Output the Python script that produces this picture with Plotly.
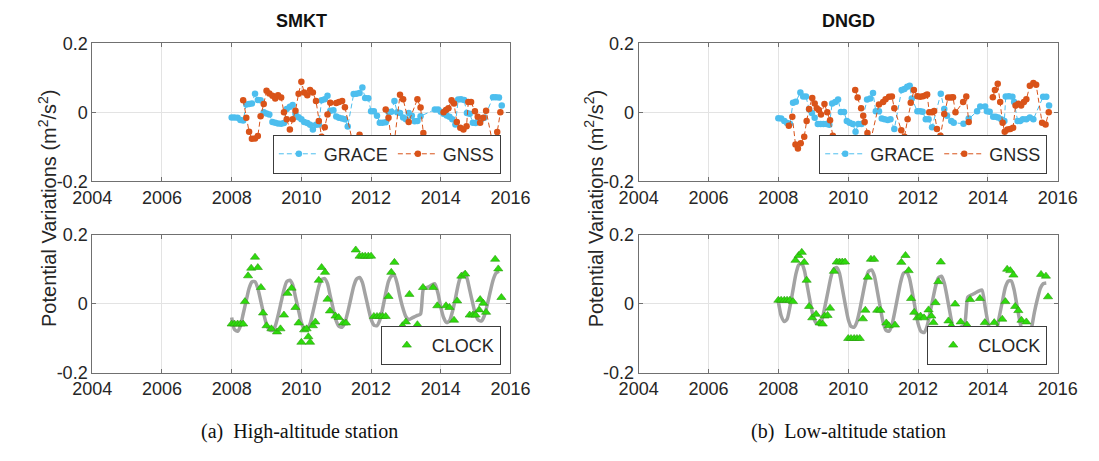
import plotly.graph_objects as go

# ---------------- SMKT (high-altitude station) ----------------
smkt_grace_t = [2008.00, 2008.08, 2008.17, 2008.25, 2008.33, 2008.42, 2008.50, 2008.58, 2008.67, 2008.75,
                2008.83, 2008.92, 2009.00, 2009.08, 2009.17, 2009.25, 2009.33, 2009.42, 2009.50, 2009.58,
                2009.67, 2009.75, 2009.83, 2009.92, 2010.00, 2010.08, 2010.17, 2010.25, 2010.33, 2010.42,
                2010.50, 2010.58, 2010.67, 2010.75, 2010.83, 2010.92, 2011.00, 2011.08, 2011.17, 2011.25,
                2011.33, 2011.50, 2011.58, 2011.67, 2011.75, 2011.83, 2011.92, 2012.00, 2012.08, 2012.17,
                2012.25, 2012.33, 2012.42, 2012.50, 2012.58, 2012.67, 2012.75, 2012.83, 2012.92, 2013.00,
                2013.08, 2013.17, 2013.25, 2013.33, 2013.42, 2013.83, 2013.92, 2014.00, 2014.08, 2014.17,
                2014.25, 2014.33, 2014.42, 2014.50, 2014.58, 2014.67, 2014.75, 2014.83, 2014.92, 2015.00,
                2015.08, 2015.17, 2015.25, 2015.50, 2015.58, 2015.67, 2015.75]
smkt_grace_v = [-0.015, -0.015, -0.016, -0.022, -0.024, 0.023, 0.024, 0.026, 0.054, 0.036,
                0.035, 0.000, -0.003, -0.006, -0.028, -0.030, -0.032, -0.033, -0.031, 0.010,
                0.016, 0.021, -0.004, -0.014, -0.020, -0.028, -0.031, -0.036, -0.050, -0.036,
                -0.035, 0.035, 0.038, 0.048, 0.005, 0.006, -0.012, -0.016, -0.018, -0.020,
                -0.041, 0.053, 0.054, 0.056, 0.072, 0.042, 0.041, 0.003, 0.003, -0.010,
                -0.030, -0.030, -0.029, 0.001, 0.002, 0.033, 0.000, -0.002, -0.015, -0.020,
                -0.002, -0.010, -0.026, -0.025, -0.011, 0.008, 0.008, 0.002, -0.004, -0.009,
                -0.013, -0.020, -0.035, 0.037, 0.038, 0.036, -0.002, -0.004, -0.030, -0.031,
                -0.022, -0.019, -0.016, 0.044, 0.044, 0.043, 0.020]

smkt_gnss_t = [2008.33, 2008.42, 2008.50, 2008.58, 2008.67, 2008.75, 2008.83, 2008.92, 2009.00, 2009.08,
               2009.17, 2009.25, 2009.33, 2009.42, 2009.50, 2009.58, 2009.67, 2009.75, 2009.83, 2009.92,
               2010.00, 2010.08, 2010.17, 2010.25, 2010.33, 2010.42, 2010.50, 2010.58, 2010.67, 2010.75,
               2010.83, 2011.00, 2011.08, 2011.17, 2011.25, 2011.50, 2011.58, 2011.67, None,
               2012.42, 2012.50, 2012.58, 2012.67, 2012.83, 2012.92, 2013.08, 2013.33, 2013.42, 2013.50, None,
               2014.08, 2014.15, 2014.22, 2014.31, 2014.38, 2014.46, 2014.56, 2014.65, 2014.74, 2014.79,
               2014.87, 2014.98, 2015.06, 2015.13, 2015.22, 2015.30, 2015.48, 2015.62, 2015.71]
smkt_gnss_v = [0.035, -0.016, -0.056, -0.077, -0.076, -0.069, -0.011, 0.024, 0.063, 0.055,
               0.048, 0.040, 0.050, 0.043, 0.000, -0.020, -0.050, -0.020, 0.005, 0.054,
               0.089, 0.058, 0.050, 0.065, 0.058, 0.033, -0.025, -0.071, -0.043, -0.006,
               0.028, 0.027, 0.030, 0.033, 0.015, -0.100, -0.083, -0.065, None,
               0.008, -0.016, -0.080, -0.083, 0.051, 0.038, -0.028, 0.038, 0.014, -0.060, None,
               0.000, 0.007, 0.012, 0.035, 0.026, -0.028, -0.045, -0.050, -0.040, 0.030,
               0.030, 0.003, -0.013, -0.030, -0.016, 0.005, -0.085, -0.057, 0.000]

smkt_clock_t = [2008.00, 2008.08, 2008.17, 2008.25, 2008.33, 2008.38, 2008.47, 2008.56, 2008.67, 2008.75,
                2008.84, 2008.90, 2009.00, 2009.14, 2009.30, 2009.40, 2009.50, 2009.60, 2009.72, 2009.83,
                2009.92, 2010.00, 2010.08, 2010.15, 2010.20, 2010.25, 2010.33, 2010.40, 2010.50, 2010.58,
                2010.68, 2010.75, 2010.82, 2010.98, 2011.07, 2011.20, 2011.28, 2011.56, 2011.67, 2011.75,
                2011.83, 2011.92, 2012.00, 2012.08, 2012.17, 2012.25, 2012.33, 2012.42, 2012.50, 2012.58,
                2012.67, 2012.90, 2013.00, 2013.10, 2013.33, 2013.49, 2013.78, 2013.90, 2014.15, 2014.25,
                2014.38, 2014.47, 2014.59, 2014.70, 2014.83, 2014.92, 2015.00, 2015.10, 2015.13, 2015.22,
                2015.30, 2015.56, 2015.65, 2015.74]
smkt_clock_v = [-0.059, -0.059, -0.059, -0.059, -0.059, 0.006, 0.081, 0.103, 0.135, 0.105,
                0.047, -0.027, -0.064, -0.073, -0.082, -0.073, -0.033, 0.030, 0.045, -0.011,
                -0.056, -0.112, -0.076, -0.073, -0.096, -0.112, -0.064, -0.053, 0.068, 0.105,
                0.091, 0.013, -0.021, -0.036, -0.040, -0.056, -0.056, 0.156, 0.138, 0.138,
                0.138, 0.138, 0.138, -0.037, -0.037, -0.037, -0.037, -0.037, 0.021, 0.091,
                0.120, -0.064, -0.053, 0.027, -0.061, 0.047, 0.047, -0.006, -0.006, -0.011,
                -0.048, 0.008, 0.080, 0.086, -0.033, -0.033, -0.033, -0.018, 0.012, 0.001,
                -0.025, 0.129, 0.101, 0.018]

smkt_fit_t = [2008.00, 2008.08, 2008.17, 2008.25, 2008.33, 2008.42, 2008.50, 2008.58, 2008.67, 2008.75,
              2008.83, 2008.92, 2009.00, 2009.08, 2009.17, 2009.25, 2009.33, 2009.42, 2009.50, 2009.58,
              2009.67, 2009.75, 2009.83, 2009.92, 2010.00, 2010.08, 2010.17, 2010.25, 2010.33, 2010.42,
              2010.50, 2010.58, 2010.67, 2010.75, 2010.83, 2010.92, 2011.00, 2011.08, 2011.17, 2011.25,
              2011.33, 2011.42, 2011.50, 2011.58, 2011.67, 2011.75, 2011.83, 2011.92, 2012.00, 2012.08,
              2012.17, 2012.25, 2012.33, 2012.42, 2012.50, 2012.58, 2012.67, 2012.75, 2012.83, 2012.92,
              2013.00, 2013.08, 2013.17, 2013.25, 2013.33, 2013.42, 2013.50, 2013.58, 2013.67, 2013.75,
              2013.83, 2013.92, 2014.00, 2014.08, 2014.17, 2014.25, 2014.33, 2014.42, 2014.50, 2014.58,
              2014.67, 2014.75, 2014.83, 2014.92, 2015.00, 2015.08, 2015.17, 2015.25, 2015.33, 2015.42,
              2015.50, 2015.58, 2015.67]
smkt_fit_v = [-0.040, -0.075, -0.080, -0.065, -0.030, 0.010, 0.045, 0.063, 0.064, 0.045,
              0.010, -0.030, -0.060, -0.076, -0.078, -0.065, -0.035, 0.005, 0.040, 0.064,
              0.068, 0.055, 0.020, -0.020, -0.055, -0.072, -0.073, -0.058, -0.025, 0.015,
              0.050, 0.070, 0.073, 0.058, 0.022, -0.018, -0.050, -0.066, -0.068, -0.055,
              -0.025, 0.015, 0.050, 0.071, 0.076, 0.062, 0.028, -0.012, -0.045, -0.062,
              -0.064, -0.048, -0.015, 0.030, 0.065, 0.080, 0.082, 0.058, 0.020, -0.015,
              -0.038, -0.046, -0.042, -0.038, -0.034, -0.030, 0.042, 0.046, 0.050, 0.055,
              0.058, 0.030, -0.010, -0.040, -0.055, -0.050, -0.025, 0.015, 0.055, 0.082,
              0.089, 0.075, 0.040, 0.000, -0.032, -0.048, -0.050, -0.035, -0.005, 0.035,
              0.068, 0.088, 0.094]

# ---------------- DNGD (low-altitude station) ----------------
dngd_grace_t = [2008.00, 2008.08, 2008.17, 2008.25, 2008.33, 2008.42, 2008.50, 2008.63, 2008.71, 2008.79,
                2008.88, 2008.96, 2009.04, 2009.13, 2009.21, 2009.29, 2009.38, 2009.46, 2009.54, 2009.63,
                2009.71, 2009.79, 2009.88, 2009.96, 2010.04, 2010.13, 2010.21, 2010.29, 2010.38, 2010.54,
                2010.63, 2010.71, 2010.79, 2010.88, 2010.96, 2011.04, 2011.13, 2011.21, 2011.32, 2011.53,
                2011.61, 2011.69, 2011.76, 2011.82, 2011.98, 2012.06, 2012.13, 2012.22, 2012.30, 2012.40,
                2012.65, 2012.75, 2012.83, 2012.95, 2013.02, 2013.30, 2013.45, 2013.69, 2013.78, 2013.92,
                2013.97, 2014.05, 2014.15, 2014.22, 2014.29, 2014.38, 2014.47, 2014.51, 2014.60, 2014.70,
                2014.75, 2014.85, 2014.92, 2015.00, 2015.10, 2015.20, 2015.30, 2015.58, 2015.67, 2015.75]
dngd_grace_v = [-0.017, -0.018, -0.025, -0.031, -0.033, 0.028, 0.031, 0.058, 0.046, 0.046,
                0.009, -0.002, -0.016, -0.034, -0.034, -0.034, -0.034, -0.036, 0.026, 0.030,
                0.037, 0.001, 0.001, -0.025, -0.030, -0.034, -0.056, -0.034, -0.034, 0.037,
                0.040, 0.056, 0.003, 0.003, -0.018, -0.020, -0.022, -0.020, -0.048, 0.065,
                0.068, 0.074, 0.077, 0.040, 0.003, 0.003, 0.002, -0.020, -0.020, -0.043,
                0.054, 0.010, -0.010, -0.025, -0.030, -0.033, -0.018, 0.003, 0.017, 0.017,
                0.003, 0.002, -0.013, -0.013, -0.015, -0.020, -0.025, 0.046, 0.047, 0.045,
                0.030, -0.025, -0.025, -0.020, -0.020, -0.015, -0.020, 0.045, 0.045, 0.020]

dngd_gnss_t = [2008.30, 2008.40, 2008.49, 2008.56, 2008.64, 2008.74, 2008.81, 2008.88, 2008.97, 2009.04,
               2009.10, 2009.16, 2009.22, 2009.32, 2009.40, 2009.48, 2009.56, 2009.64, None,
               2010.20, 2010.27, 2010.37, 2010.43, 2010.47, 2010.55, 2010.63, 2010.88, 2011.00, 2011.07,
               2011.17, 2011.25, 2011.32, 2011.52, 2011.61, 2011.70, 2011.79, 2011.88, 2011.98, 2012.06,
               2012.14, 2012.22, 2012.26, 2012.32, 2012.40, 2012.46, 2012.54, 2012.64, 2012.75, 2012.86,
               2012.94, 2013.00, 2013.07, 2013.29, 2013.38, 2013.45, None,
               2014.14, 2014.20, 2014.28, 2014.35, 2014.42, 2014.48, 2014.56, 2014.64, 2014.72, 2014.79,
               2014.87, 2014.95, 2015.03, 2015.10, 2015.20, 2015.30, 2015.38, 2015.55, 2015.65, 2015.74]
dngd_gnss_v = [-0.039, -0.013, -0.093, -0.105, -0.090, -0.071, -0.025, 0.010, 0.042, 0.026,
               0.012, 0.007, -0.006, 0.024, 0.000, -0.023, -0.068, -0.094, None,
               0.065, 0.043, 0.012, -0.010, -0.028, -0.060, -0.087, 0.023, 0.030, 0.038,
               0.045, 0.046, 0.012, -0.052, -0.071, -0.020, 0.028, 0.065, 0.047, 0.045,
               0.047, 0.050, 0.052, 0.000, 0.000, 0.004, -0.048, -0.068, -0.005, 0.043,
               0.043, 0.044, 0.000, 0.030, 0.046, -0.028, None,
               0.044, 0.065, 0.083, 0.030, -0.030, -0.056, -0.050, -0.048, -0.045, 0.020,
               0.025, 0.020, 0.030, 0.038, 0.077, 0.085, 0.080, -0.030, -0.035, 0.000]

dngd_clock_t = [2008.00, 2008.08, 2008.17, 2008.25, 2008.33, 2008.42, 2008.49, 2008.58, 2008.67, 2008.74,
                2008.81, 2008.88, 2008.97, 2009.08, 2009.18, 2009.27, 2009.32, 2009.41, 2009.48, 2009.59,
                2009.67, 2009.75, 2009.83, 2009.91, 2010.00, 2010.08, 2010.17, 2010.25, 2010.33, 2010.42,
                2010.49, 2010.56, 2010.65, 2010.74, 2010.83, 2010.92, 2011.09, 2011.16, 2011.34, 2011.52,
                2011.64, 2011.73, 2011.80, 2011.89, 2011.98, 2012.07, 2012.17, 2012.30, 2012.38, 2012.44,
                2012.50, 2012.58, 2012.65, 2012.87, 2012.95, 2013.06, 2013.22, 2013.40, 2013.49, 2013.77,
                2013.91, 2014.18, 2014.27, 2014.41, 2014.50, 2014.55, 2014.64, 2014.73, 2014.78, 2014.87,
                2014.96, 2015.10, 2015.52, 2015.66, 2015.72]
dngd_clock_v = [0.010, 0.010, 0.010, 0.010, 0.010, 0.006, 0.126, 0.140, 0.149, 0.120,
                0.068, -0.008, -0.041, -0.031, -0.056, -0.059, -0.036, -0.034, -0.013, 0.094,
                0.121, 0.121, 0.121, 0.121, -0.101, -0.101, -0.101, -0.101, -0.101, -0.044,
                -0.019, 0.077, 0.129, 0.129, -0.019, -0.019, -0.056, -0.064, -0.062, 0.120,
                0.140, 0.096, 0.015, -0.025, -0.041, -0.036, -0.041, -0.018, -0.036, -0.055,
                0.003, 0.064, 0.121, -0.050, -0.064, -0.001, -0.053, -0.062, 0.012, 0.015,
                -0.055, -0.055, -0.073, -0.045, 0.006, 0.100, 0.096, 0.083, -0.008, -0.020,
                -0.048, -0.053, 0.085, 0.080, 0.020]

dngd_fit_t = smkt_fit_t
dngd_fit_v = [0.006, -0.035, -0.052, -0.045, -0.010, 0.040, 0.085, 0.112, 0.117, 0.095,
              0.050, 0.000, -0.038, -0.056, -0.059, -0.045, -0.010, 0.035, 0.075, 0.100,
              0.105, 0.088, 0.045, -0.005, -0.045, -0.066, -0.068, -0.052, -0.018, 0.028,
              0.068, 0.094, 0.098, 0.080, 0.038, -0.012, -0.055, -0.077, -0.080, -0.062,
              -0.025, 0.022, 0.062, 0.088, 0.092, 0.075, 0.035, -0.015, -0.058, -0.080,
              -0.084, -0.068, -0.032, 0.012, 0.050, 0.075, 0.080, 0.060, 0.020, -0.030,
              -0.068, -0.078, -0.072, -0.066, -0.062, 0.018, 0.024, 0.028, 0.033, 0.037,
              0.040, -0.010, -0.055, -0.085, -0.092, -0.075, -0.035, 0.010, 0.048, 0.065,
              0.066, 0.040, -0.005, -0.055, -0.090, -0.105, -0.100, -0.070, -0.025, 0.015,
              0.045, 0.058, 0.060]

# ---------------- styling ----------------
W, H = 1099, 461
GRACE_C = "#4DBEEE"
GNSS_C = "#D95319"
CLOCK_C = "#2EDB0C"
CLOCK_EDGE = "#2E9A12"
FIT_C = "#A3A3A3"
AX_C = "#707070"
GRID_C = "#E3E3E3"
TXT_C = "#262626"
FONT = "Liberation Sans, Arial, sans-serif"

fig = go.Figure()


def series(t, v, color, name, xa, ya, leg, show=True):
    fig.add_trace(go.Scatter(
        x=t, y=v, mode="lines+markers", name=name,
        line=dict(color=color, width=1, dash="5px,3px"),
        marker=dict(color=color, size=6.5, symbol="circle"),
        xaxis=xa, yaxis=ya, legend=leg, showlegend=show, connectgaps=False))


def clock(t, v, ft, fv, xa, ya, leg):
    fig.add_trace(go.Scatter(
        x=ft, y=fv, mode="lines", line=dict(color=FIT_C, width=3.5, shape="spline", smoothing=0.6),
        xaxis=xa, yaxis=ya, showlegend=False, hoverinfo="skip"))
    fig.add_trace(go.Scatter(
        x=t, y=v, mode="markers", name="CLOCK",
        marker=dict(color=CLOCK_C, size=8, symbol="triangle-up",
                    line=dict(color=CLOCK_EDGE, width=0.6)),
        xaxis=xa, yaxis=ya, legend=leg))


series(smkt_grace_t, smkt_grace_v, GRACE_C, "GRACE", "x", "y", "legend")
series(smkt_gnss_t, smkt_gnss_v, GNSS_C, "GNSS", "x", "y", "legend")
clock(smkt_clock_t, smkt_clock_v, smkt_fit_t, smkt_fit_v, "x2", "y2", "legend2")
series(dngd_grace_t, dngd_grace_v, GRACE_C, "GRACE", "x3", "y3", "legend3")
series(dngd_gnss_t, dngd_gnss_v, GNSS_C, "GNSS", "x3", "y3", "legend3")
clock(dngd_clock_t, dngd_clock_v, dngd_fit_t, dngd_fit_v, "x4", "y4", "legend4")

# panel geometry in pixels: (left, right), (top, bottom)
LEFT_X = (75, 509)
RIGHT_X = (642, 1077)
TOP_Y = (35, 179)
BOT_Y = (235, 379)


def xdom(px):
    return [px[0] / W, px[1] / W]


def ydom(py):
    return [1 - py[1] / H, 1 - py[0] / H]


def xaxis(dom, anchor):
    return dict(domain=dom, anchor=anchor, range=[2004, 2016], tickvals=[2004, 2006, 2008, 2010, 2012, 2014, 2016],
                showgrid=True, gridcolor=GRID_C, gridwidth=1, zeroline=False,
                showline=True, linecolor=AX_C, linewidth=1, mirror="ticks",
                ticks="inside", ticklen=4, tickcolor=AX_C,
                tickfont=dict(family=FONT, size=18, color=TXT_C), fixedrange=True)


def yaxis(dom, anchor):
    return dict(domain=dom, anchor=anchor, range=[-0.2, 0.2], tickvals=[-0.2, 0, 0.2],
                ticktext=["-0.2", "0", "0.2"],
                showgrid=True, gridcolor=GRID_C, gridwidth=1, zeroline=False,
                showline=True, linecolor=AX_C, linewidth=1, mirror="ticks",
                ticks="inside", ticklen=4, tickcolor=AX_C,
                tickfont=dict(family=FONT, size=18, color=TXT_C), fixedrange=True)


def legend_box(right_px, bottom_px, horizontal):
    return dict(x=right_px / W, y=1 - bottom_px / H, xanchor="right", yanchor="bottom",
                orientation="h" if horizontal else "v",
                bgcolor="white", bordercolor="#3C3C3C", borderwidth=1,
                font=dict(family=FONT, size=18, color=TXT_C),
                itemwidth=40, tracegroupgap=0)


fig.update_layout(
    width=W, height=H, margin=dict(l=0, r=0, t=0, b=0),
    paper_bgcolor="white", plot_bgcolor="white",
    xaxis=xaxis(xdom(LEFT_X), "y"), yaxis=yaxis(ydom(TOP_Y), "x"),
    xaxis2=xaxis(xdom(LEFT_X), "y2"), yaxis2=yaxis(ydom(BOT_Y), "x2"),
    xaxis3=xaxis(xdom(RIGHT_X), "y3"), yaxis3=yaxis(ydom(TOP_Y), "x3"),
    xaxis4=xaxis(xdom(RIGHT_X), "y4"), yaxis4=yaxis(ydom(BOT_Y), "x4"),
    legend=legend_box(499, 171, True),
    legend2=legend_box(499, 371, False),
    legend3=legend_box(1066, 171, True),
    legend4=legend_box(1066, 371, False),
)

ylabel = "Potential Variations (m<sup>2</sup>/s<sup>2</sup>)"
annotations = [
    dict(text="<b>SMKT</b>", x=292 / W, y=1 - 12 / H),
    dict(text="<b>DNGD</b>", x=860 / W, y=1 - 12 / H),
]
for a in annotations:
    a.update(xref="paper", yref="paper", showarrow=False, xanchor="center", yanchor="middle",
             font=dict(family=FONT, size=18, color="#111111"))
for xc in (28, 595):
    annotations.append(dict(text=ylabel, x=xc / W, y=1 - 207 / H, xref="paper", yref="paper",
                            showarrow=False, textangle=-90, xanchor="center", yanchor="middle",
                            font=dict(family=FONT, size=20, color=TXT_C)))
for txt, xc in (("(a)  High-altitude station", 290), ("(b)  Low-altitude station", 860)):
    annotations.append(dict(text=txt, x=xc / W, y=1 - 441 / H, xref="paper", yref="paper",
                            showarrow=False, xanchor="center", yanchor="middle",
                            font=dict(family="Liberation Serif, Times New Roman, serif", size=20,
                                      color="#111111")))
fig.update_layout(annotations=annotations)

fig.write_html("out.html")
